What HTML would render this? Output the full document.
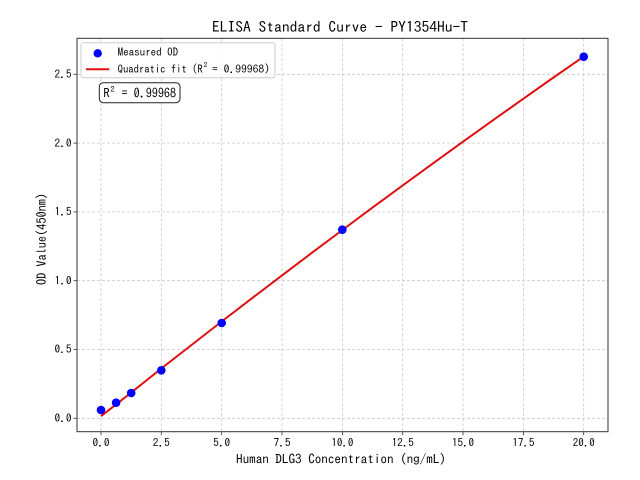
<!DOCTYPE html>
<html><head><meta charset="utf-8"><style>
html,body{margin:0;padding:0;background:#fff;}
svg{display:block;}
text{font-family:"IPAGothic","Liberation Mono",monospace;fill:#000;}
</style></head><body>
<svg width="640" height="480" viewBox="0 0 640 480" xmlns="http://www.w3.org/2000/svg">
<rect x="0" y="0" width="640" height="480" fill="#fff"/>
<!-- grid -->
<g stroke="#c8c8c8" stroke-width="0.8" stroke-dasharray="3,2">
<line x1="101" y1="38.3" x2="101" y2="431.7"/>
<line x1="161.3" y1="38.3" x2="161.3" y2="431.7"/>
<line x1="221.7" y1="38.3" x2="221.7" y2="431.7"/>
<line x1="282" y1="38.3" x2="282" y2="431.7"/>
<line x1="342.4" y1="38.3" x2="342.4" y2="431.7"/>
<line x1="402.7" y1="38.3" x2="402.7" y2="431.7"/>
<line x1="463" y1="38.3" x2="463" y2="431.7"/>
<line x1="523.4" y1="38.3" x2="523.4" y2="431.7"/>
<line x1="583.7" y1="38.3" x2="583.7" y2="431.7"/>
<line x1="77" y1="418.3" x2="608" y2="418.3"/>
<line x1="77" y1="349.5" x2="608" y2="349.5"/>
<line x1="77" y1="280.7" x2="608" y2="280.7"/>
<line x1="77" y1="211.9" x2="608" y2="211.9"/>
<line x1="77" y1="143.1" x2="608" y2="143.1"/>
<line x1="77" y1="74.3" x2="608" y2="74.3"/>
</g>
<!-- fit line -->
<polyline fill="none" stroke="#e01010" stroke-width="2" points="101,416.2 131.2,392.6 161.3,368.5 191.5,345 221.7,321.5 251.9,298.3 282,275.4 312.2,252.6 342.4,230 372.5,207.6 402.7,185.4 432.9,163.4 463,141.7 493.2,120.1 523.4,98.7 553.5,77.5 583.7,56.6"/>
<!-- points -->
<g fill="#0000ff">
<circle cx="101" cy="410" r="4.3"/>
<circle cx="116.1" cy="402.7" r="4.3"/>
<circle cx="131.2" cy="393" r="4.3"/>
<circle cx="161.3" cy="370.3" r="4.3"/>
<circle cx="221.7" cy="323" r="4.3"/>
<circle cx="342.3" cy="229.7" r="4.3"/>
<circle cx="583.7" cy="56.7" r="4.3"/>
</g>
<!-- spines -->
<rect x="77" y="38.3" width="531" height="393.4" fill="none" stroke="#333" stroke-width="1"/>
<!-- ticks -->
<g stroke="#333" stroke-width="0.8">
<line x1="101" y1="431.7" x2="101" y2="435.2"/>
<line x1="161.3" y1="431.7" x2="161.3" y2="435.2"/>
<line x1="221.7" y1="431.7" x2="221.7" y2="435.2"/>
<line x1="282" y1="431.7" x2="282" y2="435.2"/>
<line x1="342.4" y1="431.7" x2="342.4" y2="435.2"/>
<line x1="402.7" y1="431.7" x2="402.7" y2="435.2"/>
<line x1="463" y1="431.7" x2="463" y2="435.2"/>
<line x1="523.4" y1="431.7" x2="523.4" y2="435.2"/>
<line x1="583.7" y1="431.7" x2="583.7" y2="435.2"/>
<line x1="73.5" y1="418.3" x2="77" y2="418.3"/>
<line x1="73.5" y1="349.5" x2="77" y2="349.5"/>
<line x1="73.5" y1="280.7" x2="77" y2="280.7"/>
<line x1="73.5" y1="211.9" x2="77" y2="211.9"/>
<line x1="73.5" y1="143.1" x2="77" y2="143.1"/>
<line x1="73.5" y1="74.3" x2="77" y2="74.3"/>
</g>
<g font-size="11" text-anchor="middle">
<text x="101" y="446.7" textLength="17" lengthAdjust="spacingAndGlyphs">0.0</text>
<text x="161.3" y="446.7" textLength="17" lengthAdjust="spacingAndGlyphs">2.5</text>
<text x="221.7" y="446.7" textLength="17" lengthAdjust="spacingAndGlyphs">5.0</text>
<text x="282" y="446.7" textLength="17" lengthAdjust="spacingAndGlyphs">7.5</text>
<text x="342.4" y="446.7" textLength="22" lengthAdjust="spacingAndGlyphs">10.0</text>
<text x="402.7" y="446.7" textLength="22" lengthAdjust="spacingAndGlyphs">12.5</text>
<text x="463" y="446.7" textLength="22" lengthAdjust="spacingAndGlyphs">15.0</text>
<text x="523.4" y="446.7" textLength="22" lengthAdjust="spacingAndGlyphs">17.5</text>
<text x="583.7" y="446.7" textLength="22" lengthAdjust="spacingAndGlyphs">20.0</text>
</g>
<g font-size="11" text-anchor="end">
<text x="71.5" y="422" textLength="17" lengthAdjust="spacingAndGlyphs">0.0</text>
<text x="71.5" y="353.2" textLength="17" lengthAdjust="spacingAndGlyphs">0.5</text>
<text x="71.5" y="284.4" textLength="17" lengthAdjust="spacingAndGlyphs">1.0</text>
<text x="71.5" y="215.6" textLength="17" lengthAdjust="spacingAndGlyphs">1.5</text>
<text x="71.5" y="146.8" textLength="17" lengthAdjust="spacingAndGlyphs">2.0</text>
<text x="71.5" y="78" textLength="17" lengthAdjust="spacingAndGlyphs">2.5</text>
</g>
<!-- labels -->
<text x="212" y="32" font-size="15" textLength="256" lengthAdjust="spacingAndGlyphs">ELISA Standard Curve - PY1354Hu-T</text>
<text x="236" y="463.3" font-size="12.5" textLength="210" lengthAdjust="spacingAndGlyphs">Human DLG3 Concentration (ng/mL)</text>
<text transform="translate(46,285) rotate(-90)" x="0" y="0" font-size="12.5" textLength="92" lengthAdjust="spacingAndGlyphs">OD Value(450nm)</text>
<!-- legend -->
<rect x="81" y="42.7" width="194" height="35" rx="2.5" fill="#fff" fill-opacity="0.85" stroke="#cccccc" stroke-width="1"/>
<circle cx="97.7" cy="53.3" r="4.2" fill="#0000ff"/>
<line x1="86" y1="69.3" x2="109.3" y2="69.3" stroke="#e01010" stroke-width="2"/>
<text x="117.7" y="56" font-size="10.5" textLength="60.5" lengthAdjust="spacingAndGlyphs">Measured OD</text>
<text x="117.7" y="73" font-size="10.5" textLength="85" lengthAdjust="spacingAndGlyphs">Quadratic fit (R</text>
<text x="203.6" y="67.3" font-size="7.5">2</text>
<text x="212" y="73" font-size="10.5" textLength="58" lengthAdjust="spacingAndGlyphs">= 0.99968)</text>
<!-- R2 box -->
<rect x="99.3" y="82.7" width="80.7" height="20" rx="4" fill="#fff" stroke="#222" stroke-width="1"/>
<text x="103.3" y="97.7" font-size="12.5" textLength="6.5" lengthAdjust="spacingAndGlyphs">R</text>
<text x="110.4" y="92" font-size="8.5">2</text>
<text x="121.5" y="97.7" font-size="12.5" textLength="54.5" lengthAdjust="spacingAndGlyphs">= 0.99968</text>
</svg>
</body></html>
